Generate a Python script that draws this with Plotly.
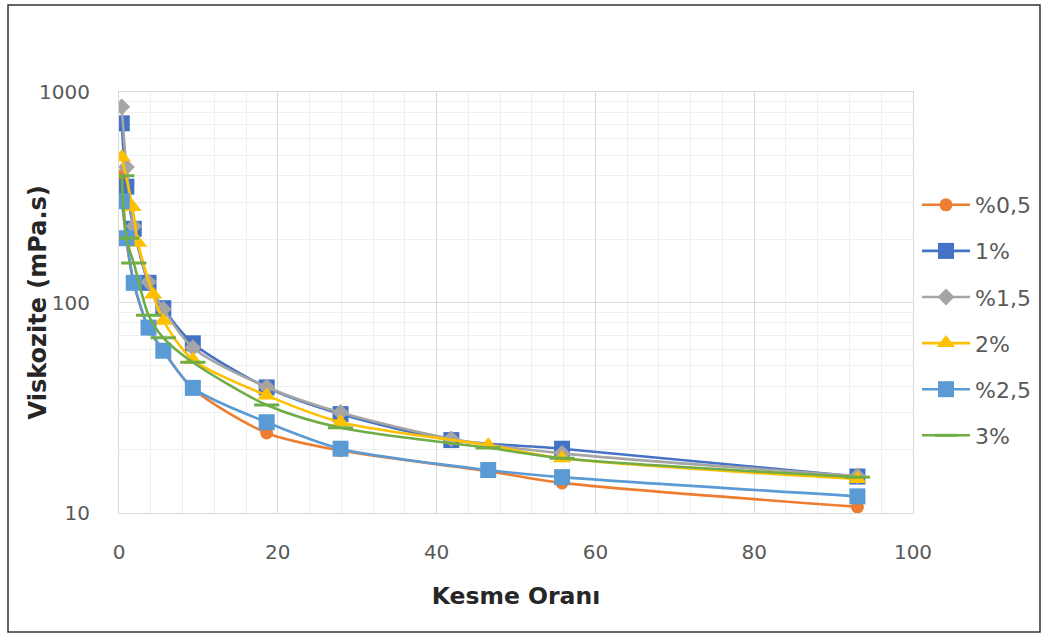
import plotly.graph_objects as go

# ---- data ----
names = ["%0,5", "1%", "%1,5", "2%", "%2,5", "3%"]

x_05 = [0.35, 0.93, 1.86, 3.72, 5.58, 9.3, 18.6, 27.9, 46.5, 55.8, 93]
y_05 = [400, 200, 124, 75, 59, 39, 24, 19.8, 15.8, 13.9, 10.7]

x_1 = [0.35, 0.93, 1.86, 3.72, 5.58, 9.3, 18.6, 27.9, 41.85, 55.8, 93]
y_1 = [710, 355, 224, 124, 94, 64, 39.5, 29.5, 22.2, 20.2, 14.9]

x_15 = [0.35, 0.93, 1.86, 3.72, 5.58, 9.3, 18.6, 27.9, 41.85, 55.8, 93]
y_15 = [850, 440, 230, 125, 93, 61, 39.7, 30, 22.5, 19.2, 15]

x_2 = [0.35, 1.7, 2.4, 4.3, 5.58, 9.3, 18.6, 27.9, 46.5, 55.8, 93]
y_2 = [490, 284, 192, 109, 82, 53.5, 36.2, 27, 21, 18.2, 14.5]

x_25 = [0.35, 0.93, 1.86, 3.72, 5.58, 9.3, 18.6, 27.9, 46.5, 55.8, 93]
y_25 = [303, 202, 124, 76, 59, 39.3, 27, 20.2, 16.0, 14.8, 12.0]

x_3 = [0.35, 0.93, 1.86, 3.72, 5.58, 9.3, 18.6, 27.9, 46.5, 55.8, 93]
y_3 = [400, 202, 154, 87, 68, 52, 32.6, 25.4, 20.4, 18.2, 14.8]

xs = [x_05, x_1, x_15, x_2, x_25, x_3]
ys = [y_05, y_1, y_15, y_2, y_25, y_3]
colors = ["#ED7D31", "#4472C4", "#A5A5A5", "#FFC000", "#5B9BD5", "#70AD47"]
symbols = ["circle", "square", "diamond", "triangle-up", "square", "line-ew"]
sizes = [13, 16, 13, 16, 16, 18]

x_ticks = [0, 20, 40, 60, 80, 100]

fig = go.Figure()
for i in range(6):
    mk = dict(symbol=symbols[i], size=sizes[i], color=colors[i],
              line=dict(width=0, color=colors[i]))
    if symbols[i] == "line-ew":
        mk["line"] = dict(width=3, color=colors[i])
    fig.add_trace(go.Scatter(
        x=xs[i], y=ys[i], name=names[i], mode="lines+markers",
        line=dict(color=colors[i], width=2.6, shape="spline", smoothing=0.8),
        marker=mk, legendgroup=names[i]))

L, R, T, B = 119, 913, 92, 513
W, H = 1048, 637
pw, ph = R - L, B - T

def px(xp):
    return (xp - L) / pw

def py(yp):
    return (B - yp) / ph

TXT = "DejaVu Sans, sans-serif"

fig.update_layout(
    width=W, height=H,
    margin=dict(l=L, r=W - R, t=T, b=H - B),
    paper_bgcolor="white", plot_bgcolor="white",
    font=dict(family=TXT, color="#595959"),
    showlegend=True,
    legend=dict(x=px(917), y=py(184), xanchor="left", yanchor="top",
                font=dict(size=22, color="#595959", family=TXT),
                tracegroupgap=14.5, itemwidth=48, bgcolor="rgba(0,0,0,0)"),
    shapes=[dict(type="rect", xref="paper", yref="paper",
                 x0=px(8), x1=px(1040), y0=py(632), y1=py(5),
                 line=dict(color="#333333", width=1.5), layer="below")],
    annotations=[dict(text="<b>Viskozite (mPa.s)</b>", xref="paper", yref="paper",
                      x=px(37), y=0.5, xanchor="center", yanchor="middle",
                      textangle=-90, showarrow=False,
                      font=dict(size=24, color="#262626", family=TXT))],
)

fig.update_xaxes(
    range=[0, 100], tickvals=x_ticks, ticktext=[str(v) for v in x_ticks],
    showgrid=True, gridcolor="#D9D9D9", gridwidth=1,
    minor=dict(dtick=4, showgrid=True, gridcolor="#EFEFEF", gridwidth=1),
    showline=True, linecolor="#D9D9D9", linewidth=1, mirror=True,
    zeroline=False, ticks="", ticklabelstandoff=21,
    tickfont=dict(size=20, color="#595959", family=TXT),
    title=dict(text="<b>Kesme Oranı</b>",
               font=dict(size=23.5, color="#262626", family=TXT),
               standoff=24),
)
fig.update_yaxes(
    type="log", range=[1, 3], tickvals=[10, 100, 1000],
    ticktext=["10", "100", "1000"],
    showgrid=True, gridcolor="#D9D9D9", gridwidth=1,
    minor=dict(showgrid=True, gridcolor="#EFEFEF", gridwidth=1,
               tickvals=[v * d for d in (10, 100) for v in range(2, 10)]),
    showline=True, linecolor="#D9D9D9", linewidth=1, mirror=True,
    zeroline=False, ticks="", ticklabelstandoff=24,
    tickfont=dict(size=20, color="#595959", family=TXT),
)

fig.write_html("out.html", config={"displayModeBar": False},
               post_script="document.body.style.margin='0';")
